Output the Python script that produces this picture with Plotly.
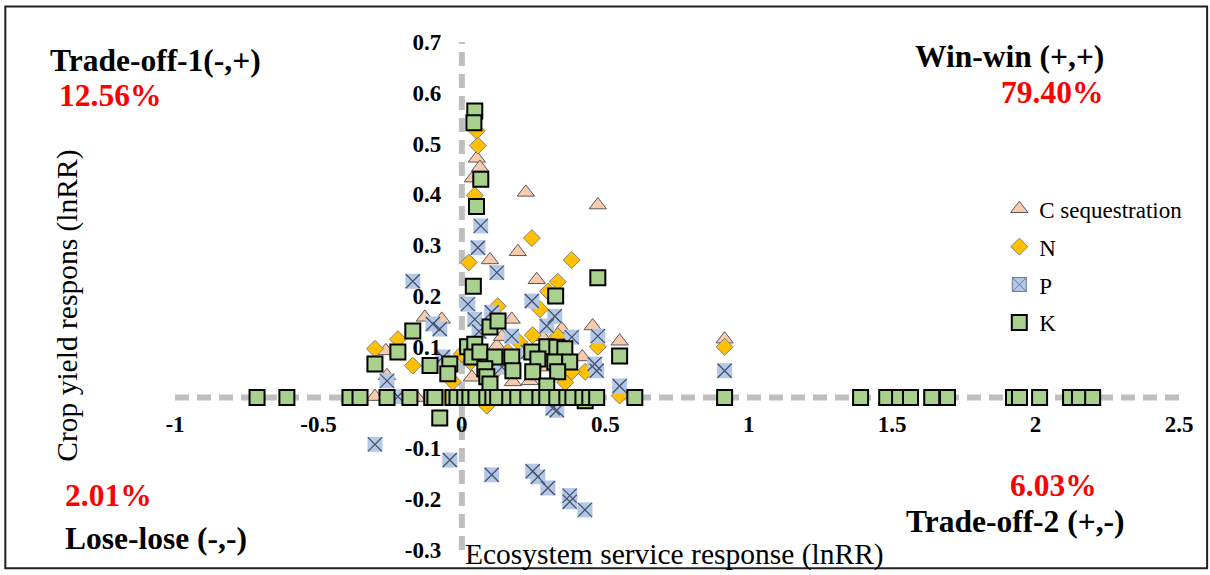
import plotly.graph_objects as go

# ---- Data: ecosystem service response (x) vs crop yield response (y), lnRR ----
c_seq_x = [0.052, 0.063, 0.038, 0.223, 0.474, 0.195, 0.098, 0.261, 0.174, 0.456,
           0.348, 0.550, 0.122, 0.178, 0.237, 0.035, -0.070, -0.129, -0.265, -0.303,
           -0.049, -0.157, -0.261, 0.916, 0.060, 0.140, 0.300, 0.080, 0.200, 0.420,
           0.280, -0.390]
c_seq_y = [0.471, 0.453, 0.432, 0.404, 0.379, 0.287, 0.271, 0.232, 0.154, 0.141,
           0.135, 0.111, 0.102, 0.031, 0.033, 0.040, 0.154, 0.158, 0.092, 0.002,
           0.000, 0.000, 0.043, 0.115, 0.090, 0.120, 0.060, 0.010, 0.000, 0.080,
           0.120, 0.000]

n_x = [0.052, 0.056, 0.045, 0.244, 0.383, 0.024, 0.334, 0.272, 0.247, 0.125,
       0.474, 0.430, 0.383, 0.300, 0.200, 0.334, 0.087, 0.550, 0.125, -0.223,
       -0.303, -0.171, -0.031, -0.066, 0.916, 0.000, 0.030, 0.160, 0.360]
n_y = [0.525, 0.496, 0.398, 0.314, 0.271, 0.266, 0.228, 0.174, 0.123, 0.180,
       0.100, 0.051, 0.051, 0.209, 0.109, 0.121, -0.016, 0.004, 0.057, 0.115,
       0.096, 0.063, 0.031, 0.000, 0.100, 0.086, 0.070, 0.090, 0.030]

p_x = [0.066, 0.056, 0.122, 0.021, 0.244, 0.324, 0.045, 0.104, 0.296, 0.174,
       0.383, 0.474, 0.463, 0.470, 0.317, 0.331, 0.550, -0.066, -0.171, -0.101,
       -0.261, -0.223, -0.077, 0.916, -0.303, -0.042, 0.104, 0.247, 0.265, 0.300,
       0.376, 0.376, 0.429, 0.140, 0.060, 0.230]
p_y = [0.338, 0.295, 0.246, 0.184, 0.190, 0.160, 0.154, 0.168, 0.141, 0.121,
       0.119, 0.121, 0.066, 0.053, -0.021, -0.025, 0.023, 0.080, 0.229, 0.145,
       0.033, 0.002, 0.135, 0.053, -0.092, -0.123, -0.152, -0.145, -0.156, -0.178,
       -0.193, -0.205, -0.221, 0.060, 0.130, 0.090]

k_x = [0.045, 0.042, 0.066, 0.051, 0.040, 0.474, 0.327, 0.098, 0.126, 0.020,
       0.045, 0.035, 0.063, 0.115, 0.174, 0.080, 0.178, -0.042, -0.049, 0.087,
       0.098, 0.244, 0.296, 0.331, 0.359, 0.265, 0.324, 0.376, 0.247, 0.334,
       0.296, 0.550, -0.077, 0.430, -0.171, -0.223, -0.303, -0.111,
       # along the zero line
       -0.714, -0.610, -0.390, -0.355, -0.261, -0.181, -0.105, -0.094, -0.031, -0.017,
       0.010, 0.028, 0.049, 0.087, 0.108, 0.125, 0.167, 0.195, 0.230, 0.272,
       0.296, 0.331, 0.366, 0.387, 0.422, 0.446, 0.470, 0.603, 0.916, 1.390,
       1.481, 1.526, 1.564, 1.638, 1.693, 1.923, 1.944, 2.014, 2.122, 2.153, 2.199]
k_y = [0.564, 0.541, 0.430, 0.376, 0.219, 0.236, 0.200, 0.139, 0.151, 0.100,
       0.105, 0.080, 0.090, 0.080, 0.080, 0.057, 0.053, 0.066, 0.047, 0.041,
       0.027, 0.090, 0.100, 0.099, 0.096, 0.076, 0.070, 0.070, 0.051, 0.051,
       0.023, 0.082, -0.040, -0.006, 0.131, 0.090, 0.066, 0.063,
       0.0, 0.0, 0.0, 0.0, 0.0, 0.0, 0.0, 0.0, 0.0, 0.0,
       0.0, 0.0, 0.0, 0.0, 0.0, 0.0, 0.0, 0.0, 0.0, 0.0,
       0.0, 0.0, 0.0, 0.0, 0.0, 0.0, 0.0, 0.0, 0.0, 0.0,
       0.0, 0.0, 0.0, 0.0, 0.0, 0.0, 0.0, 0.0, 0.0, 0.0, 0.0]

x_ticks = [-1, -0.5, 0, 0.5, 1, 1.5, 2, 2.5]
x_tick_text = ["-1", "-0.5", "0", "0.5", "1", "1.5", "2", "2.5"]
y_ticks = [-0.3, -0.2, -0.1, 0.1, 0.2, 0.3, 0.4, 0.5, 0.6, 0.7]
y_tick_text = ["-0.3", "-0.2", "-0.1", "0.1", "0.2", "0.3", "0.4", "0.5", "0.6", "0.7"]

quadrants = [
    ("Trade-off-1(-,+)", "12.56%"),
    ("Win-win (+,+)", "79.40%"),
    ("Lose-lose (-,-)", "2.01%"),
    ("Trade-off-2 (+,-)", "6.03%"),
]

SERIF = "Liberation Serif, Times New Roman, serif"
X_RANGE = [-1, 2.5]
Y_RANGE = [-0.3, 0.7]
P_LINE = "#44546A"

fig = go.Figure()

fig.add_trace(go.Scatter(
    x=c_seq_x, y=c_seq_y, mode="markers", name="C sequestration",
    legendgroup="c",
    marker=dict(symbol="triangle-up", size=15, color="#F8CBAD",
                line=dict(color="#595959", width=1)),
    cliponaxis=False))

fig.add_trace(go.Scatter(
    x=n_x, y=n_y, mode="markers", name="N", legendgroup="n",
    marker=dict(symbol="diamond", size=13, color="#FFC000",
                line=dict(color="#7F7F7F", width=1)),
    cliponaxis=False))

# P: legend entry, then a light-blue square with a thin dark cross on top
fig.add_trace(go.Scatter(
    x=[None], y=[None], mode="markers", name="P", legendgroup="p",
    marker=dict(symbol="square-x", size=14, color="#B4C7E7",
                line=dict(color="#6A7891", width=1))))
fig.add_trace(go.Scatter(
    x=p_x, y=p_y, mode="markers", name="P", legendgroup="p", showlegend=False,
    marker=dict(symbol="square", size=15, color="#B4C7E7", line=dict(width=0)),
    cliponaxis=False))
fig.add_trace(go.Scatter(
    x=p_x, y=p_y, mode="markers", name="P", legendgroup="p", showlegend=False,
    marker=dict(symbol="x-thin-open", size=14, color=P_LINE,
                line=dict(color=P_LINE, width=1.3)),
    cliponaxis=False))

fig.add_trace(go.Scatter(
    x=k_x, y=k_y, mode="markers", name="K", legendgroup="k",
    marker=dict(symbol="square", size=15, color="#A9D18E",
                line=dict(color="#000000", width=2)),
    cliponaxis=False))

# dashed quadrant axes through the origin
dash_line = dict(color="#BFBFBF", width=6, dash="14px,8px")
fig.add_shape(type="line", xref="x", yref="y", x0=X_RANGE[0], x1=X_RANGE[1],
              y0=0, y1=0, line=dash_line, layer="below")
fig.add_shape(type="line", xref="x", yref="y", x0=0, x1=0,
              y0=Y_RANGE[0], y1=Y_RANGE[1], line=dash_line, layer="below")

# outer frame
fig.add_shape(type="rect", xref="paper", yref="paper",
              x0=-0.169, x1=1.028, y0=-0.036, y1=1.07,
              line=dict(color="#202020", width=2), layer="below")

label_font = dict(family=SERIF, size=31.5, color="black")
pct_font = dict(family=SERIF, size=31.5, color="red")
positions = [
    ((-0.1264, 0.9627, "left"), (-0.1175, 0.894, "left")),
    ((0.9268, 0.9706, "right"), (0.9258, 0.900, "right")),
    ((-0.1115, 0.0235, "left"), (-0.1115, 0.1078, "left")),
    ((0.9487, 0.0569, "right"), (0.9200, 0.1275, "right")),
]
for (label, pct), ((lx, ly, la), (px_, py_, pa)) in zip(quadrants, positions):
    fig.add_annotation(text=f"<b>{label}</b>", x=lx, y=ly, xref="paper", yref="paper",
                       xanchor=la, yanchor="middle", showarrow=False, font=label_font)
    fig.add_annotation(text=f"<b>{pct}</b>", x=px_, y=py_, xref="paper", yref="paper",
                       xanchor=pa, yanchor="middle", showarrow=False, font=pct_font)

# axis titles
fig.add_annotation(text="Ecosystem service response (lnRR)", x=0.2866, y=-0.008,
                   xref="paper", yref="paper", xanchor="left", yanchor="middle",
                   showarrow=False, font=dict(family=SERIF, size=29.5, color="black"))
fig.add_annotation(text="Crop yield respons (lnRR)", x=-0.107, y=0.48,
                   xref="paper", yref="paper", xanchor="center", yanchor="middle",
                   textangle=-90, showarrow=False,
                   font=dict(family=SERIF, size=29.5, color="black"))

tick_font = dict(family=SERIF, size=23, color="black", weight="bold")
fig.update_xaxes(range=X_RANGE, tickvals=x_ticks, ticktext=x_tick_text,
                 showgrid=False, zeroline=False, showline=False,
                 anchor="free", position=(0 - Y_RANGE[0]) / (Y_RANGE[1] - Y_RANGE[0]),
                 ticks="outside", ticklen=6, tickcolor="rgba(0,0,0,0)",
                 tickfont=tick_font)
fig.update_yaxes(range=Y_RANGE, tickvals=y_ticks, ticktext=y_tick_text,
                 showgrid=False, zeroline=False, showline=False,
                 anchor="free", position=(0 - X_RANGE[0]) / (X_RANGE[1] - X_RANGE[0]),
                 ticks="outside", ticklen=16, tickcolor="rgba(0,0,0,0)",
                 tickfont=tick_font)

fig.update_layout(
    width=1210, height=575,
    margin=dict(l=175, r=31, t=42, b=23),
    plot_bgcolor="white", paper_bgcolor="white",
    showlegend=True,
    legend=dict(x=0.821, y=0.714, xanchor="left", yanchor="top",
                font=dict(family=SERIF, size=23, color="black"),
                bgcolor="rgba(0,0,0,0)", traceorder="grouped", tracegroupgap=5,
                itemsizing="trace"),
)

fig.write_html("out.html")
